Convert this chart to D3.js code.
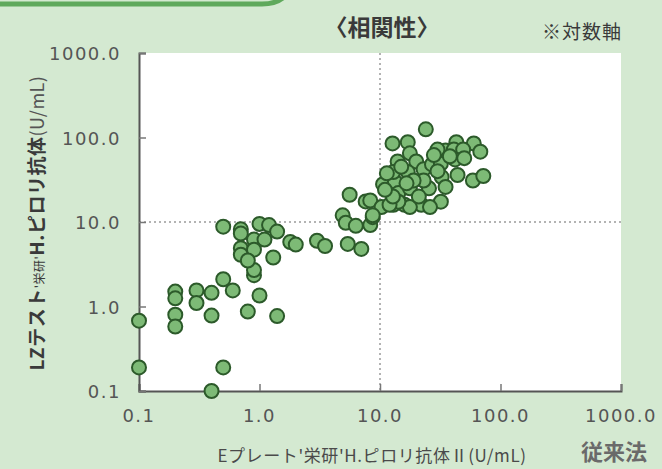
<!DOCTYPE html>
<html>
<head>
<meta charset="utf-8">
<script src="https://cdn.jsdelivr.net/npm/d3@7"></script>
<style>
  html, body { margin: 0; padding: 0; background: #d4e9d1; }
  svg { display: block; }
</style>
</head>
<body>
<svg id="chart" width="662" height="469"></svg>
<script>
// Conventional method (E-plate) values, U/mL
const conventional = [
  0.1, 0.1, 0.4, 0.5, 0.2, 0.2, 0.2, 0.2, 0.3, 0.3, 0.4, 0.4, 0.5, 0.6, 0.8, 1.0, 1.4, 0.9, 0.9,
  0.5, 0.7, 0.7, 1.0, 1.2, 1.4, 0.9, 1.1, 1.8, 2.0, 0.7, 0.7, 0.9, 0.8, 1.3,
  3.0, 3.5, 5.4, 7.0, 4.9, 5.2, 6.3, 5.6, 7.6, 8.3, 8.7, 8.3, 10.3, 10.6, 13.3, 14.2, 12.9, 16,
  24, 12.7, 17, 43, 60, 68, 35, 41, 49, 30, 42, 14, 17.7, 20, 23, 27, 32, 32.5, 44, 59, 72,
  35, 25.5, 17.7, 17, 12.9, 32, 22, 17.7, 14.2, 12, 26, 23, 19, 16.6, 11.4, 12.8, 50, 28, 38, 8.7,
  15, 21, 11, 30
];
// LZ test values, U/mL
const lzTest = [
  0.68, 0.19, 0.1, 0.19, 1.5, 1.25, 0.8, 0.58, 1.55, 1.1, 1.45, 0.78, 2.1, 1.55, 0.87, 1.35, 0.77, 2.35, 2.7,
  8.8, 8.2, 7.3, 9.5, 9.2, 7.7, 6.2, 6.2, 5.8, 5.4, 4.9, 4.1, 4.7, 3.5, 3.8,
  6.0, 5.2, 5.5, 4.8, 12, 9.8, 9.0, 21, 17.5, 9.2, 11.4, 18, 15, 28, 30, 22, 16, 16,
  125, 85, 88, 88, 85, 68, 70, 72, 72, 72, 55, 52, 65, 52, 42, 48, 49, 34, 36, 31, 35,
  26, 25, 25, 39, 39, 17.4, 16, 15, 17.4, 16, 15, 31, 31, 28.7, 37.7, 20, 57, 62, 60, 12,
  45, 20, 24, 40
];
const tickValues = [0.1, 1, 10, 100, 1000];
const tickLabels = ["0.1", "1.0", "10.0", "100.0", "1000.0"];

const svg = d3.select("#chart");
const rounded = "'DejaVu Sans', 'Noto Sans', sans-serif";
const jp = "'Noto Sans CJK JP', 'Noto Sans', sans-serif";

// Header ribbon along the top edge
svg.append("path")
  .attr("d", "M-5,0 L262,0 Q276,0 282,-6 L-5,-6 Z")
  .attr("fill", "#f1f8ef");
svg.append("path")
  .attr("d", "M-5,4 L262,4 Q278,4 286,-5")
  .attr("fill", "none").attr("stroke", "#5fa95c").attr("stroke-width", 5)
  .attr("stroke-linecap", "round");

const x = d3.scaleLog().domain([0.1, 1000]).range([139, 621]);
const y = d3.scaleLog().domain([0.1, 1000]).range([391, 53]);

// Plot background
svg.append("rect")
  .attr("x", x(0.1)).attr("y", y(1000))
  .attr("width", x(1000) - x(0.1)).attr("height", y(0.1) - y(1000))
  .attr("fill", "#ffffff");

// Dotted reference lines at 10 U/mL
svg.append("line")
  .attr("x1", x(10)).attr("x2", x(10)).attr("y1", y(1000)).attr("y2", y(0.1))
  .attr("stroke", "#9a9a9a").attr("stroke-width", 1.5).attr("stroke-dasharray", "2,3");
svg.append("line")
  .attr("x1", x(0.1)).attr("x2", x(1000)).attr("y1", y(10)).attr("y2", y(10))
  .attr("stroke", "#9a9a9a").attr("stroke-width", 1.5).attr("stroke-dasharray", "2,3");

// Axes with inward ticks, labels drawn separately
const fmt = d => tickLabels[tickValues.indexOf(d)];
const xAxis = svg.append("g").attr("transform", `translate(0,${y(0.1)})`)
  .call(d3.axisTop(x).tickValues(tickValues).tickSize(7).tickFormat(""));
const yAxis = svg.append("g").attr("transform", `translate(${x(0.1)},0)`)
  .call(d3.axisRight(y).tickValues(tickValues).tickSize(7).tickFormat(""));
[xAxis, yAxis].forEach(g => {
  g.select(".domain").attr("stroke", "#555").attr("stroke-width", 2);
  g.selectAll(".tick line").attr("stroke", "#777").attr("stroke-width", 1.5);
});

svg.append("g").selectAll("text").data(tickValues).join("text")
  .attr("x", d => x(d)).attr("y", 422)
  .attr("text-anchor", "middle")
  .attr("font-family", rounded).attr("font-size", 18).attr("letter-spacing", 1.5)
  .attr("fill", "#555").text(fmt);

svg.append("g").selectAll("text").data(tickValues).join("text")
  .attr("x", 121).attr("y", d => y(d) + 7)
  .attr("text-anchor", "end")
  .attr("font-family", rounded).attr("font-size", 18).attr("letter-spacing", 1.5)
  .attr("fill", "#555").text(fmt);

// Points
const pts = conventional.map((c, i) => [c, lzTest[i]]);
svg.append("g").selectAll("circle").data(pts).join("circle")
  .attr("cx", d => x(d[0])).attr("cy", d => y(d[1])).attr("r", 7)
  .attr("fill", "#7dba76").attr("stroke", "#2c5a2a").attr("stroke-width", 2);

// Titles
svg.append("text").attr("x", 382).attr("y", 36).attr("text-anchor", "middle")
  .attr("font-family", jp).attr("font-weight", 700).attr("font-size", 23)
  .attr("fill", "#3a3a3a").text("〈相関性〉");
svg.append("text").attr("x", 622).attr("y", 39).attr("text-anchor", "end")
  .attr("font-family", jp).attr("font-size", 19).attr("letter-spacing", 1)
  .attr("fill", "#3a3a3a").text("※対数軸");

// X axis title
svg.append("text").attr("x", 372).attr("y", 462).attr("text-anchor", "middle")
  .attr("font-family", jp).attr("font-size", 17).attr("letter-spacing", 0.6).attr("fill", "#4a4a4a")
  .text("Eプレート'栄研'H.ピロリ抗体Ⅱ(U/mL)");
svg.append("text").attr("x", 614).attr("y", 460).attr("text-anchor", "middle")
  .attr("font-family", jp).attr("font-weight", 700).attr("font-size", 22)
  .attr("fill", "#6a6a6a").text("従来法");

// Y axis title (rotated)
const yt = svg.append("text")
  .attr("transform", "translate(44,223) rotate(-90)")
  .attr("text-anchor", "middle").attr("font-family", jp).attr("fill", "#3a3a3a")
  .attr("letter-spacing", 0.5);
yt.append("tspan").attr("font-weight", 700).attr("font-size", 19).text("LZテスト");
yt.append("tspan").attr("font-size", 12).text("'栄研'");
yt.append("tspan").attr("font-weight", 700).attr("font-size", 19).text("H.ピロリ抗体");
yt.append("tspan").attr("font-size", 18).attr("fill", "#555").text("(U/mL)");
</script>
</body>
</html>
